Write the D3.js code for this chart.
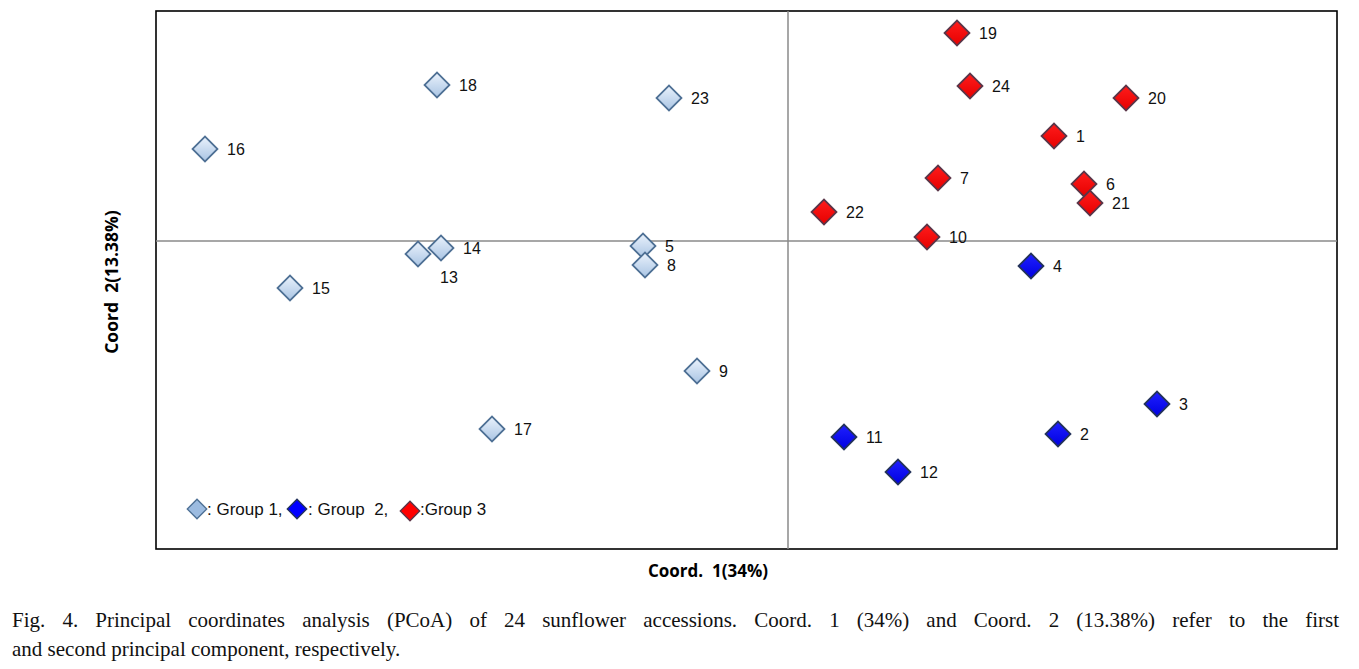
<!DOCTYPE html>
<html><head><meta charset="utf-8">
<script src="https://cdn.jsdelivr.net/npm/d3@7"></script>
<style>body{margin:0;background:#fff}svg{display:block}</style>
</head><body>
<svg id="c" width="1359" height="669"></svg>
<script>
// PCoA coordinates (arbitrary units)
const ids    = ["1","2","3","4","5","6","7","8","9","10","11","12","13","14","15","16","17","18","19","20","21","22","23","24"];
const coord1 = [2.66,2.70,3.69,2.43,-1.45,2.96,1.50,-1.43,-0.91,1.39,0.56,1.10,-3.70,-3.47,-4.98,-5.83,-2.96,-3.51,1.69,3.38,3.02,0.36,-1.19,1.82];
const coord2 = [1.05,-1.93,-1.63,-0.25,-0.05,0.57,0.63,-0.24,-1.30,0.04,-1.96,-2.31,-0.13,-0.07,-0.47,0.92,-1.88,1.56,2.08,1.43,0.38,0.29,1.43,1.55];
const group  = [3,2,2,2,1,3,3,1,1,3,2,2,1,1,1,1,1,1,3,3,3,3,1,3];
const labelBelow = ["13"];
const groupNames = ["Group 1","Group  2","Group 3"];
const xTitle = "Coord.  1(34%)";
const yTitle = "Coord  2(13.38%)";
const caption1 = "Fig. 4. Principal coordinates analysis (PCoA) of 24 sunflower accessions. Coord. 1 (34%) and Coord. 2 (13.38%) refer to the first";
const caption2 = "and second principal component, respectively.";

const svg = d3.select("#c");
const L=156, R=1337, T=11, B=549;
const x = d3.scaleLinear().domain([-6.32,5.49]).range([L,R]);
const y = d3.scaleLinear().domain([-3.08,2.30]).range([B,T]);

const defs = svg.append("defs");
function grad(id,a,b){
  const g = defs.append("linearGradient").attr("id",id).attr("x1","0").attr("y1","0").attr("x2","1").attr("y2","1");
  g.append("stop").attr("offset","0").attr("stop-color",a);
  g.append("stop").attr("offset","1").attr("stop-color",b);
}
grad("g1","#eaf2fc","#a9c4e3");
grad("g2","#2020ff","#0000e0");
grad("g3","#ff1c1c","#e60000");
const fills = {1:"url(#g1)",2:"url(#g2)",3:"url(#g3)"};
const strokes = {1:"#4d6f94",2:"#23325a",3:"#5a3548"};

// frame
svg.append("rect").attr("x",L).attr("y",T).attr("width",R-L).attr("height",B-T)
  .attr("fill","none").attr("stroke","#000").attr("stroke-width",1.6);
// zero lines
svg.append("line").attr("x1",x(0)).attr("x2",x(0)).attr("y1",T).attr("y2",B).attr("stroke","#8a8a8a").attr("stroke-width",1.5);
svg.append("line").attr("x1",L).attr("x2",R).attr("y1",y(0)).attr("y2",y(0)).attr("stroke","#8a8a8a").attr("stroke-width",1.5);

const diamond = d3.symbol().type(d3.symbolSquare).size(310);
const data = ids.map((id,i)=>({id,cx:coord1[i],cy:coord2[i],g:group[i]}));

const pts = svg.append("g").selectAll("g").data(data).join("g")
  .attr("transform",d=>`translate(${x(d.cx)},${y(d.cy)})`);
pts.append("path").attr("d",diamond).attr("transform","rotate(45)")
  .attr("fill",d=>fills[d.g]).attr("stroke",d=>strokes[d.g]).attr("stroke-width",1.8);
pts.append("text")
  .attr("x",22)
  .attr("y",d=>labelBelow.includes(d.id)?29:6)
  .attr("font-family","Liberation Sans, Arial, sans-serif").attr("font-size",16).attr("fill","#111")
  .text(d=>d.id);

// legend
const legY = 509;
const leg = [{g:1,x:197,tx:207,t:": "+groupNames[0]+","},{g:2,x:297,tx:308,t:": "+groupNames[1]+","},{g:3,x:410,tx:420,t:":"+groupNames[2]}];
const lsym = d3.symbol().type(d3.symbolSquare).size(190);
leg.forEach(l=>{
  svg.append("path").attr("d",lsym).attr("transform",`translate(${l.x},${legY+(l.g===3?2:0)}) rotate(45)`)
    .attr("fill",l.g===1?"#9cbbe0":(l.g===2?"#0000ff":"#ff0000")).attr("stroke",strokes[l.g]).attr("stroke-width",1.3);
  svg.append("text").attr("x",l.tx).attr("y",legY+6).attr("font-family","Liberation Sans, Arial, sans-serif")
    .attr("font-size",17).attr("fill","#111").style("white-space","pre").text(l.t);
});

// axis titles
svg.append("text").attr("x",708).attr("y",577).attr("text-anchor","middle")
  .attr("font-family","Open Sans, sans-serif").attr("font-weight","bold").attr("font-size",17)
  .style("white-space","pre").text(xTitle);
svg.append("text").attr("transform","translate(118,282) rotate(-90)").attr("text-anchor","middle")
  .attr("font-family","Open Sans, sans-serif").attr("font-weight","bold").attr("font-size",17.5)
  .style("white-space","pre").text(yTitle);

// caption (justified first line)
const capFont = "Liberation Serif, Times New Roman, serif";
const words = caption1.split(" ");
const cg = svg.append("g").attr("font-family",capFont).attr("font-size",21).attr("fill","#111");
const ws = words.map(w=>cg.append("text").attr("y",627).text(w));
const widths = ws.map(t=>t.node().getComputedTextLength());
const x0=12, x1=1339;
const gap = (x1-x0-d3.sum(widths))/(words.length-1);
let cx=x0;
ws.forEach((t,i)=>{t.attr("x",cx); cx+=widths[i]+gap;});
cg.append("text").attr("x",x0).attr("y",656).text(caption2);
</script>
</body></html>
